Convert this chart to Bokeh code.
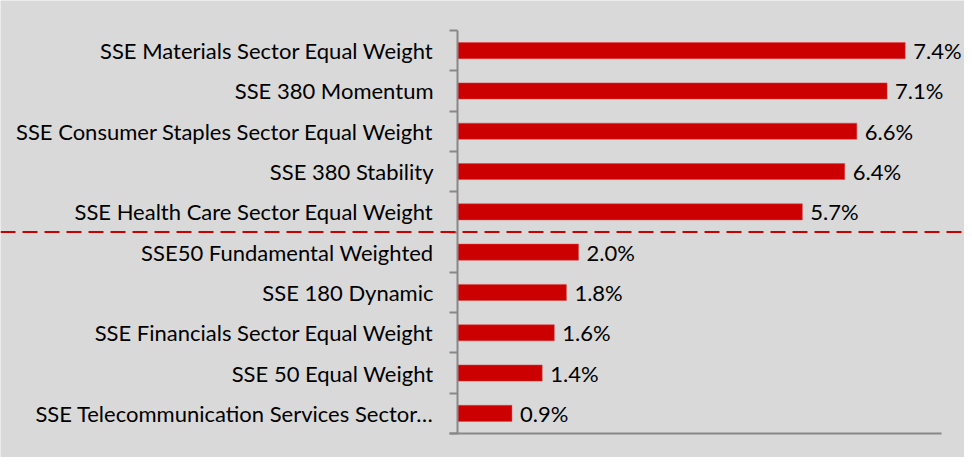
from bokeh.plotting import figure
from bokeh.models import (Range1d, LinearAxis, FixedTicker, ColumnDataSource, Span)
from bokeh.core.properties import value
from bokeh.embed import file_html
from bokeh.resources import INLINE

# ---- data (top to bottom) ----
index_names = [
    "SSE Materials Sector Equal Weight",
    "SSE 380 Momentum",
    "SSE Consumer Staples Sector Equal Weight",
    "SSE 380 Stability",
    "SSE Health Care Sector Equal Weight",
    "SSE50 Fundamental Weighted",
    "SSE 180 Dynamic",
    "SSE Financials Sector Equal Weight",
    "SSE 50 Equal Weight",
    "SSE Telecommunication Services Sector\u2026",
]
returns_pct = [7.4, 7.1, 6.6, 6.4, 5.7, 2.0, 1.8, 1.6, 1.4, 0.9]
value_labels = ["7.4%", "7.1%", "6.6%", "6.4%", "5.7%", "2.0%", "1.8%", "1.6%", "1.4%", "0.9%"]
separator_after = 5  # dashed line separates top 5 from the rest
x_max = 8

n = len(index_names)
y_centers = [n - 0.5 - i for i in range(n)]

BG = "#d9d9d9"
RED = "#cc0000"
AXIS = "#888888"
FONT = "Lato"
FS = "22px"

W, H = 964, 457
# frame covers whole figure; data-to-pixel mapping
px_per_x = 60.5
x0_px = 457
px_per_y = 40.3
ytop_px = 30

p = figure(width=W, height=H, output_backend="svg", toolbar_location=None,
           x_axis_type=None, y_axis_type=None,
           x_range=Range1d(-x0_px / px_per_x, (W - x0_px) / px_per_x),
           y_range=Range1d(n - (H - ytop_px) / px_per_y, n + ytop_px / px_per_y),
           background_fill_color=BG, border_fill_color=BG,
           min_border=0, outline_line_color=None)
p.grid.visible = False

src = ColumnDataSource(dict(y=y_centers, v=returns_pct, lab=value_labels))
p.hbar(y="y", left=0, right="v", height=0.4, source=src,
       fill_color=RED, line_color="#e04040", line_width=0.5)

p.text(x="v", y="y", text="lab", source=src, x_offset=8,
       text_baseline="middle", text_align="left",
       text_font=value(FONT), text_font_size=FS, text_color="#000000")

# left category axis fixed at x = 0
yaxis = LinearAxis(fixed_location=0, bounds=(0, n),
                   ticker=FixedTicker(ticks=y_centers, minor_ticks=list(range(n + 1))),
                   major_label_overrides={c: name for c, name in zip(y_centers, index_names)},
                   axis_line_color=AXIS, axis_line_width=2,
                   major_tick_line_color=None, major_tick_in=0, major_tick_out=0,
                   minor_tick_line_color=AXIS, minor_tick_line_width=2,
                   minor_tick_in=0, minor_tick_out=8,
                   major_label_standoff=16,
                   major_label_text_font=FONT, major_label_text_font_size=FS,
                   major_label_text_color="#000000")
p.add_layout(yaxis, "left")

# bottom value axis line at y = 0
xaxis = LinearAxis(fixed_location=0, bounds=(-8 / px_per_x, x_max),
                   ticker=FixedTicker(ticks=[]),
                   axis_line_color=AXIS, axis_line_width=2,
                   major_tick_line_color=None, minor_tick_line_color=None,
                   major_label_text_font_size="0px")
p.add_layout(xaxis, "below")

p.add_layout(Span(location=n - separator_after, dimension="width",
                  line_color=RED, line_width=2, line_dash="15 7"))

open("out.html", "w").write(file_html(p, INLINE))
